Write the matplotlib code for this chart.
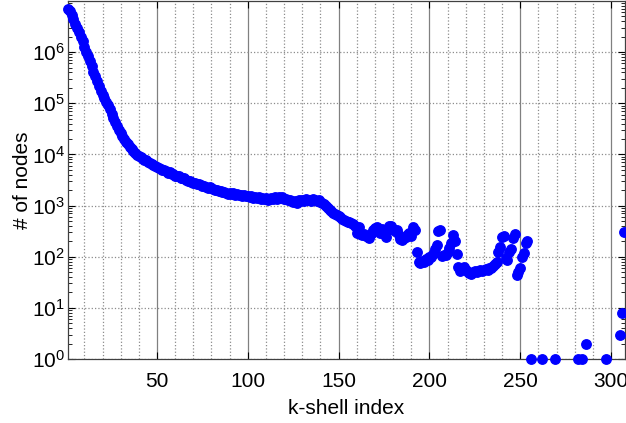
import numpy as np
import matplotlib
matplotlib.use('Agg')
import matplotlib.pyplot as plt
from matplotlib.ticker import LogLocator, MultipleLocator, NullFormatter

plt.rcParams['font.family'] = ['Liberation Sans', 'DejaVu Sans']
plt.rcParams['mathtext.fontset'] = 'custom'
plt.rcParams['mathtext.rm'] = 'Liberation Sans'

# k-shell index 1..254 (one point per shell), log10 of node count
k_dense = np.arange(1, 255)
log_nodes_dense = [
    6.85, 6.80, 6.72, 6.64, 6.55, 6.47, 6.39, 6.30, 6.21, 6.11,
    6.01, 5.92, 5.82, 5.72, 5.62, 5.53, 5.44, 5.34, 5.25, 5.17,
    5.10, 5.03, 4.96, 4.88, 4.80, 4.72, 4.64, 4.56, 4.48, 4.42,
    4.36, 4.30, 4.25, 4.20, 4.15, 4.10, 4.06, 4.02, 3.99, 3.97,
    3.94, 3.93, 3.90, 3.89, 3.86, 3.84, 3.82, 3.79, 3.78, 3.75,
    3.73, 3.72, 3.70, 3.69, 3.67, 3.64, 3.65, 3.62, 3.61, 3.58,
    3.57, 3.57, 3.54, 3.53, 3.53, 3.50, 3.49, 3.49, 3.46, 3.45,
    3.45, 3.42, 3.43, 3.40, 3.38, 3.39, 3.37, 3.35, 3.37, 3.34,
    3.33, 3.30, 3.31, 3.28, 3.29, 3.26, 3.27, 3.25, 3.23, 3.24,
    3.22, 3.24, 3.21, 3.23, 3.20, 3.21, 3.19, 3.21, 3.18, 3.19,
    3.16, 3.18, 3.15, 3.17, 3.14, 3.16, 3.13, 3.15, 3.12, 3.14,
    3.11, 3.13, 3.15, 3.12, 3.16, 3.13, 3.17, 3.14, 3.16, 3.13,
    3.12, 3.10, 3.11, 3.08, 3.07, 3.09, 3.06, 3.10, 3.08, 3.11,
    3.09, 3.12, 3.10, 3.11, 3.09, 3.12, 3.10, 3.08, 3.11, 3.07,
    3.05, 3.03, 3.00, 2.96, 2.92, 2.89, 2.86, 2.84, 2.81, 2.79,
    2.77, 2.74, 2.72, 2.70, 2.68, 2.67, 2.66, 2.63, 2.60, 2.46,
    2.58, 2.44, 2.42, 2.45, 2.40, 2.38, 2.37, 2.44, 2.52, 2.56,
    2.58, 2.50, 2.47, 2.55, 2.44, 2.38, 2.52, 2.60, 2.61, 2.55,
    2.50, 2.52, 2.42, 2.34, 2.32, 2.36, 2.39, 2.44, 2.47, 2.40,
    2.58, 2.52, 2.10, 1.90, 1.88, 1.91, 1.90, 1.96, 1.94, 2.00,
    1.99, 2.05, 2.16, 2.22, 2.51, 2.52, 2.02, 2.04, 2.03, 2.10,
    2.18, 2.26, 2.42, 2.30, 2.06, 1.80, 1.73, 1.78, 1.80, 1.75,
    1.70, 1.68, 1.67, 1.70, 1.72, 1.70, 1.73, 1.74, 1.72, 1.75,
    1.76, 1.74, 1.77, 1.78, 1.82, 1.86, 1.90, 2.09, 2.19, 2.38,
    2.40, 1.98, 1.94, 2.09, 2.16, 2.36, 2.45, 1.64, 1.70, 1.77,
    1.99, 2.07, 2.27, 2.30,
]

# innermost shells, sparse
k_sparse = [256, 262, 269, 282, 284, 286, 297, 305, 306, 307]
nodes_sparse = [1, 1, 1, 1, 1, 2, 1, 3, 8, 300]

k = np.concatenate([k_dense, k_sparse])
nodes = np.concatenate([10 ** np.array(log_nodes_dense), nodes_sparse])

fig = plt.figure(figsize=(6.26, 4.23), dpi=100)
ax = fig.add_axes([68 / 626, 1 - 359 / 423, 557 / 626, 358 / 423])

ax.semilogy(k, nodes, 'o', color='b', mec='b', ms=6.8, clip_on=False, zorder=3)

ax.set_xlim(1, 307.7)
ax.set_ylim(1, 1e7)
ax.set_xticks([50, 100, 150, 200, 250, 300])
ax.xaxis.set_minor_locator(MultipleLocator(10))
ax.set_yticks([10 ** i for i in range(7)])
ax.yaxis.set_minor_locator(LogLocator(base=10, subs=np.arange(2, 10), numticks=20))
ax.yaxis.set_minor_formatter(NullFormatter())

ax.grid(axis='x', which='major', ls='-', color='0.5', lw=0.9)
ax.grid(axis='x', which='minor', ls=':', color='0.55', lw=0.9)
ax.grid(axis='y', which='major', ls=':', color='0.55', lw=0.9)
ax.set_axisbelow(True)

ax.tick_params(which='both', direction='in', top=True, right=True, labelsize=15)
ax.tick_params(axis='x', which='major', length=5, pad=9)
ax.tick_params(axis='x', which='minor', length=0)
ax.tick_params(axis='y', which='major', length=5, pad=2)
ax.tick_params(axis='y', which='minor', length=3)
for s in ax.spines.values():
    s.set_color('0.25')
    s.set_linewidth(0.9)

ax.set_xlabel('k-shell index', fontsize=15, labelpad=6)
ax.set_ylabel('# of nodes', fontsize=15, labelpad=0)

fig.savefig('out.png', dpi=100)
